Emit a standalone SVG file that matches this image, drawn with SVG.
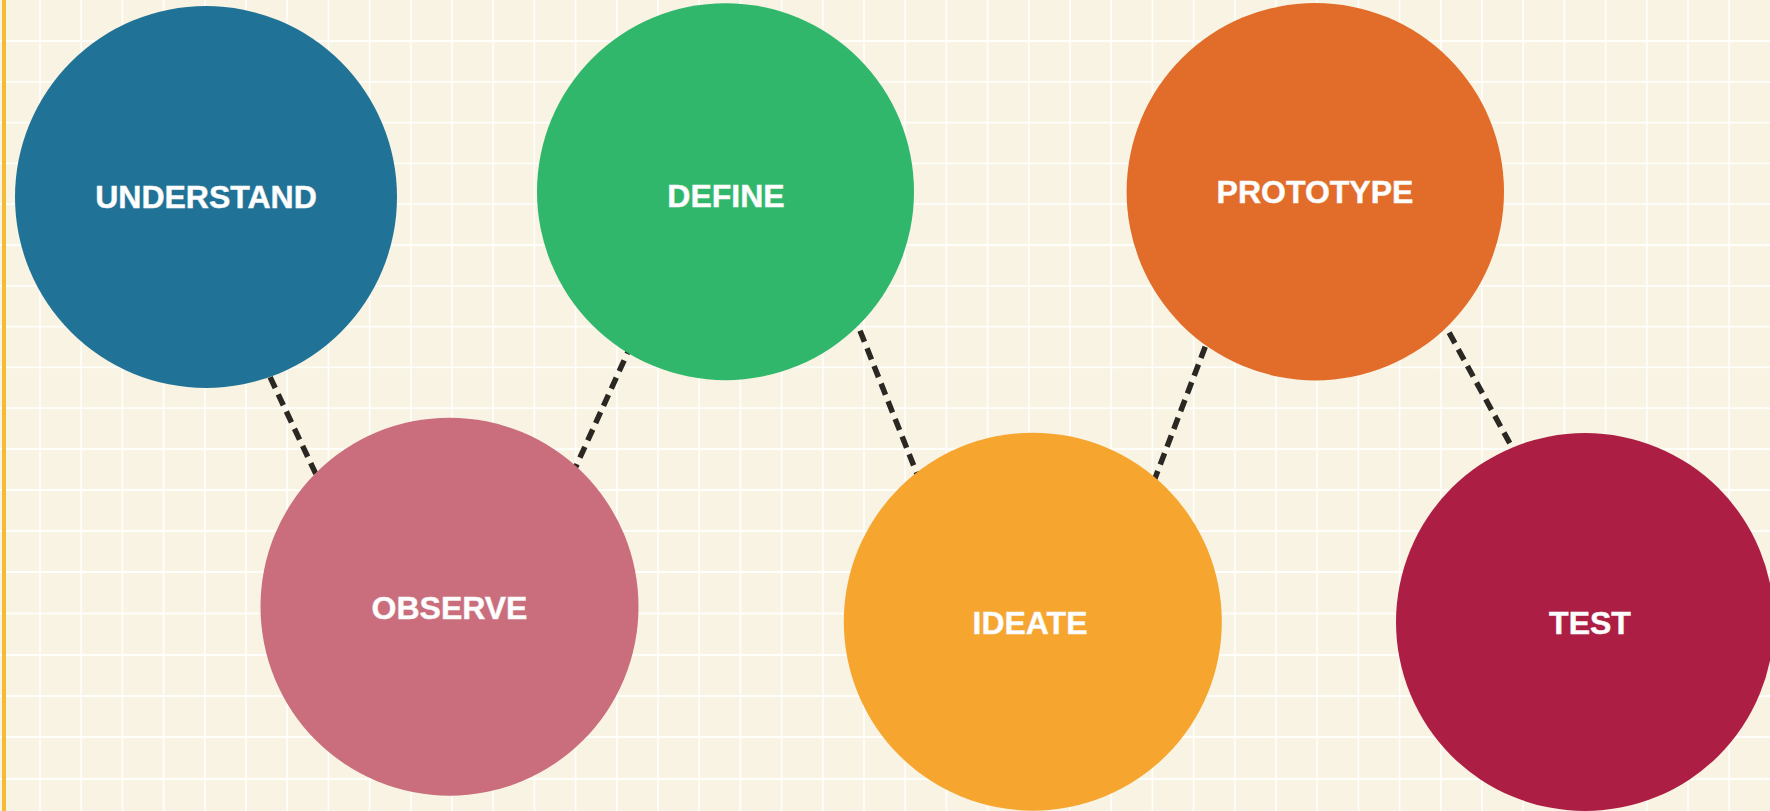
<svg xmlns="http://www.w3.org/2000/svg" width="1770" height="811" viewBox="0 0 1770 811">
<style>
.grid{stroke:#ffffff;stroke-width:1.8;fill:none;opacity:0.85}
.conn{stroke:#2b2823;stroke-width:5.5;stroke-dasharray:12 7;fill:none}
.lbl{font-family:"Liberation Sans",Arial,sans-serif;font-weight:bold;font-size:32px;fill:#ffffff;text-anchor:middle;stroke:#f2f2f2;stroke-width:0.5}
</style>
<rect x="0" y="0" width="1770" height="811" fill="#f8f3e2"/>
<g id="grid">
<path class="grid" d="M40 0V811M81.2 0V811M122.4 0V811M163.6 0V811M204.8 0V811M246 0V811M287.2 0V811M328.4 0V811M369.6 0V811M410.8 0V811M452 0V811M493.2 0V811M534.4 0V811M575.6 0V811M616.8 0V811M658 0V811M699.2 0V811M740.4 0V811M781.6 0V811M822.8 0V811M864 0V811M905.2 0V811M946.4 0V811M987.6 0V811M1028.8 0V811M1070 0V811M1111.2 0V811M1152.4 0V811M1193.6 0V811M1234.8 0V811M1276 0V811M1317.2 0V811M1358.4 0V811M1399.6 0V811M1440.8 0V811M1482 0V811M1523.2 0V811M1564.4 0V811M1605.6 0V811M1646.8 0V811M1688 0V811M1729.2 0V811"/>
<path class="grid" d="M0 41H1770M0 81.8H1770M0 122.6H1770M0 163.4H1770M0 204.2H1770M0 245H1770M0 285.8H1770M0 326.6H1770M0 367.4H1770M0 408.2H1770M0 449H1770M0 490H1770M0 531H1770M0 572H1770M0 613.5H1770M0 655H1770M0 696H1770M0 737H1770M0 779H1770"/>
</g>
<rect x="2" y="0" width="4" height="811" fill="#f6bb36"/>
<g id="connectors">
<line class="conn" x1="262" y1="360" x2="322" y2="487"/>
<line class="conn" x1="632" y1="343" x2="568" y2="484"/>
<line class="conn" x1="853" y1="313" x2="923" y2="489"/>
<line class="conn" x1="1212" y1="329" x2="1149" y2="494"/>
<line class="conn" x1="1440" y1="316" x2="1519" y2="460"/>
</g>
<g id="understand">
<circle cx="206" cy="197" r="191" fill="#207396"/>
<text class="lbl" x="206" y="208">UNDERSTAND</text>
</g>
<g id="define">
<circle cx="725.5" cy="191.7" r="188.5" fill="#31b76c"/>
<text class="lbl" x="726" y="207">DEFINE</text>
</g>
<g id="prototype">
<circle cx="1315.3" cy="191.7" r="188.7" fill="#e26c29"/>
<text class="lbl" x="1315" y="203">PROTOTYPE</text>
</g>
<g id="observe">
<circle cx="449.5" cy="606.7" r="189" fill="#ca6d7c"/>
<text class="lbl" x="449.5" y="619">OBSERVE</text>
</g>
<g id="ideate">
<circle cx="1032.8" cy="621.7" r="189" fill="#f6a52f"/>
<text class="lbl" x="1030" y="634">IDEATE</text>
</g>
<g id="test">
<circle cx="1585" cy="622" r="189" fill="#ad1e45"/>
<text class="lbl" x="1590" y="634">TEST</text>
</g>
</svg>
